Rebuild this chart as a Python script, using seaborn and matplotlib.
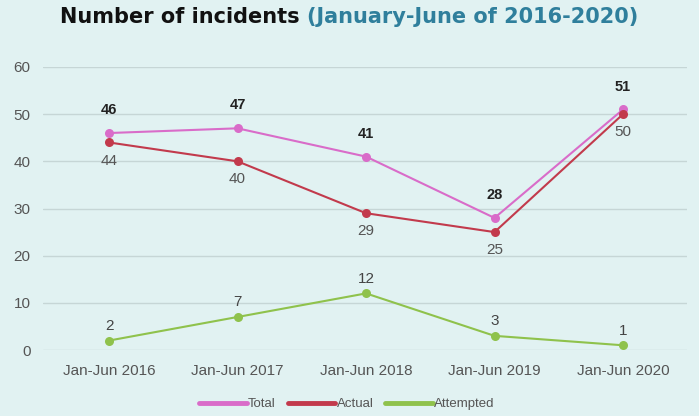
import matplotlib
matplotlib.use("Agg")
import matplotlib.pyplot as plt
import seaborn as sns
import pandas as pd
from matplotlib.lines import Line2D

periods = ["Jan-Jun 2016", "Jan-Jun 2017", "Jan-Jun 2018", "Jan-Jun 2019", "Jan-Jun 2020"]
total = [46, 47, 41, 28, 51]
actual = [44, 40, 29, 25, 50]
attempted = [2, 7, 12, 3, 1]

series_names = ["Total", "Actual", "Attempted"]
colors = {"Total": "#d96cc9", "Actual": "#c23a4c", "Attempted": "#8fc24c"}

rows = []
for name, vals in zip(series_names, [total, actual, attempted]):
    for i, (p, v) in enumerate(zip(periods, vals)):
        rows.append({"pos": i, "period": p, "value": v, "series": name})
df = pd.DataFrame(rows)

sns.set_theme(style="white")
plt.rcParams["font.family"] = ["Liberation Sans", "DejaVu Sans"]
bg = "#e1f2f2"

fig = plt.figure(figsize=(6.99, 4.16), dpi=100, facecolor=bg)
ax = fig.add_axes([43 / 699, 66 / 416, 644 / 699, 283 / 416], facecolor=bg)

sns.lineplot(data=df, x="pos", y="value", hue="series", hue_order=series_names,
             palette=colors, marker="o", markersize=6.5, markeredgewidth=0,
             linewidth=1.5, ax=ax, legend=False)

ax.set_xlim(-0.514, 4.498)
ax.set_ylim(0, 60)
ax.set_yticks(range(0, 61, 10))
ax.set_xticks(range(len(periods)))
ax.set_xticklabels(periods)
ax.tick_params(axis="both", length=0, labelsize=11, colors="#555555")
ax.tick_params(axis="x", pad=10)
ax.tick_params(axis="y", pad=9)
ax.yaxis.grid(True, color="#c6d6d6", linewidth=1)
ax.set_axisbelow(True)
for s in ax.spines.values():
    s.set_visible(False)
ax.set_xlabel("")
ax.set_ylabel("")
for line in ax.lines:
    line.set_clip_on(False)

for i, v in enumerate(total):
    ax.annotate(str(v), (i, v), xytext=(0, 16.5), textcoords="offset points",
                ha="center", va="center", fontsize=10.5, fontweight="bold", color="#222222")
for i, v in enumerate(actual):
    ax.annotate(str(v), (i, v), xytext=(0, -13), textcoords="offset points",
                ha="center", va="center", fontsize=11, color="#555555")
for i, v in enumerate(attempted):
    ax.annotate(str(v), (i, v), xytext=(0, 10.5), textcoords="offset points",
                ha="center", va="center", fontsize=11, color="#444444")

# Title in two colours
t1 = fig.text(0.5, 0.958, "Number of incidents ", ha="left", va="center",
              fontsize=15, fontweight="bold", color="#111111", family="DejaVu Sans")
t2 = fig.text(0.5, 0.958, "(January-June of 2016-2020)", ha="left", va="center",
              fontsize=15, fontweight="bold", color="#2f7f9c", family="DejaVu Sans")
fig.canvas.draw()
w1 = t1.get_window_extent().width
w2 = t2.get_window_extent().width
W = fig.bbox.width
start = (W - (w1 + w2)) / 2
t1.set_x(start / W)
t2.set_x((start + w1) / W)

handles = [Line2D([0], [0], color=colors[n], linewidth=3.5) for n in series_names]
fig.legend(handles, series_names, loc="center", bbox_to_anchor=(347 / 699, 1 - 404 / 416), ncol=3,
           frameon=False, fontsize=9.5, handlelength=3.6, handletextpad=0.1,
           columnspacing=0.9, labelcolor="#555555")

fig.savefig("out.png", dpi=100, facecolor=bg)
